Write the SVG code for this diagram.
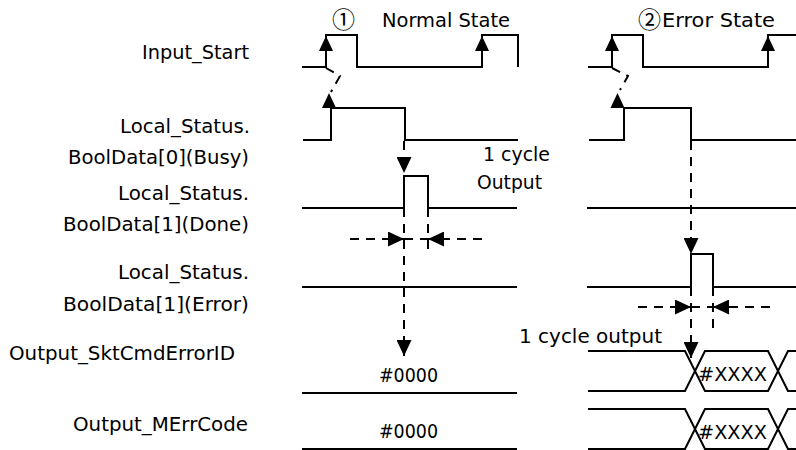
<svg xmlns="http://www.w3.org/2000/svg" xmlns:xlink="http://www.w3.org/1999/xlink" width="796" height="450" viewBox="0 0 796 450">
<style>
text{font-family:"DejaVu Sans","Noto Sans CJK JP",sans-serif;font-size:19px;fill:#000}
.lbl{text-anchor:end}
.circ{font-family:"Noto Sans CJK JP","Noto Sans CJK SC",sans-serif;font-size:23px}
.sig{fill:none;stroke:#000;stroke-width:2}
.dash{fill:none;stroke:#000;stroke-width:2;stroke-dasharray:9,7}
.ah{fill:#000}
</style>
<defs>
<marker id="arr" viewBox="0 0 16 15" refX="16" refY="7.5" markerWidth="16" markerHeight="15" markerUnits="userSpaceOnUse" orient="auto">
<path d="M0,0 L16,7.5 L0,15 Z" fill="#000"/>
</marker>
<path id="up" d="M0,0 L7,15 L-7,15 Z"/>
</defs>
<rect width="796" height="450" fill="#fff"/>

<g id="labels">
<text class="lbl" x="249" y="59" textLength="107" lengthAdjust="spacingAndGlyphs">Input_Start</text>
<text class="lbl" x="250" y="133" textLength="130" lengthAdjust="spacingAndGlyphs">Local_Status.</text>
<text class="lbl" x="249" y="164" textLength="181" lengthAdjust="spacingAndGlyphs">BoolData[0](Busy)</text>
<text class="lbl" x="249" y="200" textLength="131" lengthAdjust="spacingAndGlyphs">Local_Status.</text>
<text class="lbl" x="249" y="231" textLength="186" lengthAdjust="spacingAndGlyphs">BoolData[1](Done)</text>
<text class="lbl" x="249" y="279" textLength="131" lengthAdjust="spacingAndGlyphs">Local_Status.</text>
<text class="lbl" x="249" y="311" textLength="186" lengthAdjust="spacingAndGlyphs">BoolData[1](Error)</text>
<text x="9" y="360" textLength="226" lengthAdjust="spacingAndGlyphs">Output_SktCmdErrorID</text>
<text class="lbl" x="248" y="431" textLength="175" lengthAdjust="spacingAndGlyphs">Output_MErrCode</text>
</g>

<g id="headers">
<text x="332" y="28"><tspan class="circ">①</tspan><tspan x="382" y="27" textLength="128" lengthAdjust="spacingAndGlyphs">Normal State</tspan></text>
<text x="638" y="28"><tspan class="circ">②</tspan><tspan x="662" y="27" textLength="113" lengthAdjust="spacingAndGlyphs">Error State</tspan></text>
<text x="483" y="161" textLength="67" lengthAdjust="spacingAndGlyphs">1 cycle</text>
<text x="477" y="189" textLength="65" lengthAdjust="spacingAndGlyphs">Output</text>
<text x="519" y="343" textLength="143" lengthAdjust="spacingAndGlyphs">1 cycle output</text>
</g>

<g id="normal-state">
<g id="n-input-start">
<path class="sig" d="M302,67 H326 V35 H357 V67 H482 V35 H518 V67"/>
<use xlink:href="#up" x="326" y="36" class="ah"/>
<use xlink:href="#up" x="482" y="36" class="ah"/>
</g>
<g id="n-busy">
<path class="sig" d="M303,140 H331 V108 H405 V140 H518"/>
<use xlink:href="#up" x="329" y="93" class="ah"/>
</g>
<g id="n-done">
<path class="sig" d="M302,208 H404 V176 H428 V208 H517"/>
</g>
<g id="n-error">
<path class="sig" d="M302,287 H517"/>
</g>
<g id="n-sktcmd">
<path class="sig" d="M302,393 H517"/>
<text x="379" y="382" textLength="59" lengthAdjust="spacingAndGlyphs">#0000</text>
</g>
<g id="n-merrcode">
<path class="sig" d="M302,449 H517"/>
<text x="379" y="438" textLength="59" lengthAdjust="spacingAndGlyphs">#0000</text>
</g>
</g>

<g id="error-state">
<g id="e-input-start">
<path class="sig" d="M588,67 H612 V35 H643 V67 H768 V35 H796"/>
<use xlink:href="#up" x="612" y="36" class="ah"/>
<use xlink:href="#up" x="768" y="36" class="ah"/>
</g>
<g id="e-busy">
<path class="sig" d="M589,140 H624 V108 H691 V140 H796"/>
<use xlink:href="#up" x="617.5" y="93" class="ah"/>
</g>
<g id="e-done">
<path class="sig" d="M587,208 H796"/>
</g>
<g id="e-error">
<path class="sig" d="M587,287 H691 V254 H713 V287 H796"/>
</g>
<g id="e-sktcmd">
<path class="sig" d="M588,351 H685 L705,391 H768 L788,351 H796 M588,391 H685 L705,351 H768 L788,391 H796"/>
<text x="698" y="381" textLength="69" lengthAdjust="spacingAndGlyphs">#XXXX</text>
</g>
<g id="e-merrcode">
<path class="sig" d="M588,409 H685 L705,449 H768 L788,409 H796 M588,449 H685 L705,409 H768 L788,449 H796"/>
<text x="698" y="439" textLength="69" lengthAdjust="spacingAndGlyphs">#XXXX</text>
</g>
</g>

<g id="connectors">
<path class="dash" d="M326,68 L340,76 L331,92"/>
<path class="dash" d="M404,141 V173" marker-end="url(#arr)"/>
<path class="dash" d="M404,208 V356" marker-end="url(#arr)"/>
<path class="dash" d="M428,208 V255"/>
<path class="dash" d="M350,239 H404" marker-end="url(#arr)"/>
<path class="dash" d="M482,239 H428" marker-end="url(#arr)"/>
<path class="dash" d="M404,239 H428"/>

<path class="dash" d="M612,68 L628,76 L620,90"/>
<path class="dash" d="M691,141 V254" marker-end="url(#arr)"/>
<path class="dash" d="M691,287 V358" marker-end="url(#arr)"/>
<path class="dash" d="M713,287 V333"/>
<path class="dash" d="M638,307 H691" marker-end="url(#arr)"/>
<path class="dash" d="M770,307 H713" marker-end="url(#arr)"/>
<path class="dash" d="M691,307 H713"/>
</g>
</svg>
